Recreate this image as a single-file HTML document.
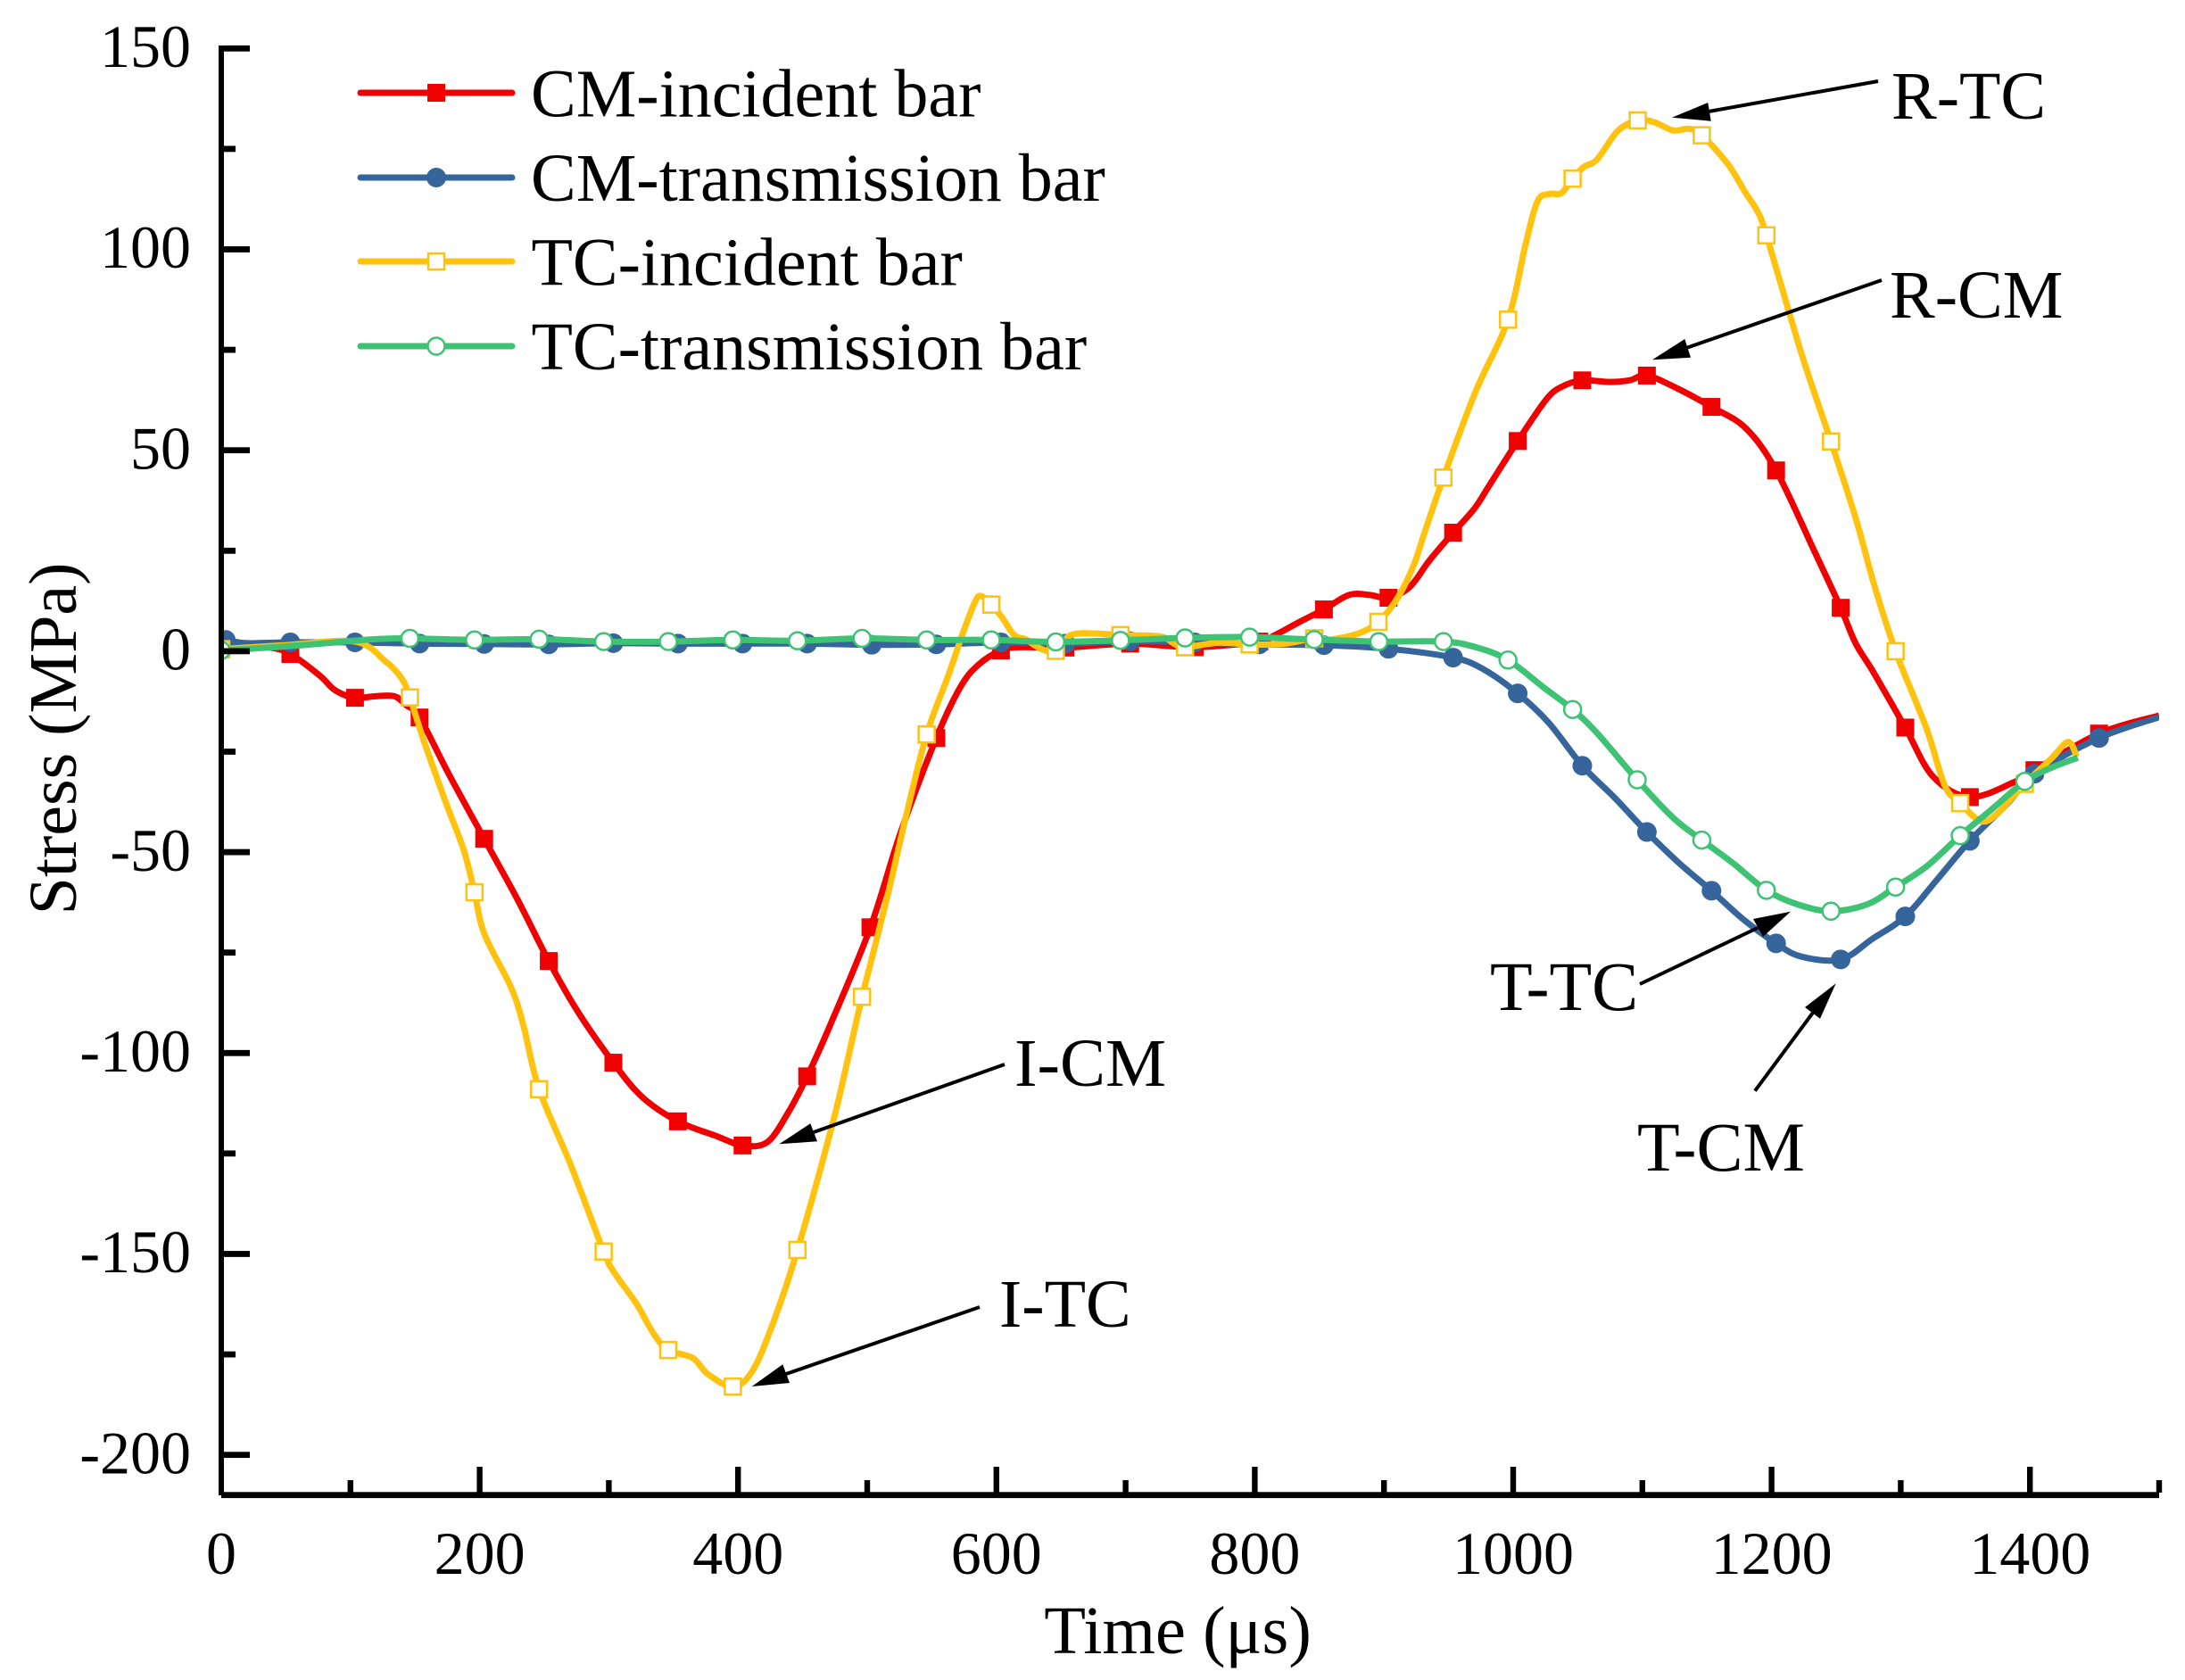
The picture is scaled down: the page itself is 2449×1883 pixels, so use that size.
<!DOCTYPE html>
<html lang="en">
<head>
<meta charset="utf-8">
<title>Stress vs Time</title>
<style>
html,body{margin:0;padding:0;background:#fff;}
svg{display:block;}
text{font-family:"Liberation Serif","Times New Roman",serif;fill:#000;}
</style>
</head>
<body>
<svg id="chart" xmlns="http://www.w3.org/2000/svg" width="2449" height="1883" viewBox="0 0 2449 1883">
  <defs>
    <clipPath id="plot-clip"><rect x="248" y="40" width="2172" height="1640"/></clipPath>
  </defs>
  <rect x="0" y="0" width="2449" height="1883" fill="#fff"/>
  <g id="series-layer" clip-path="url(#plot-clip)"></g>
  <g id="axes-layer"></g>

  <text x="1320" y="1853" font-size="76.5" text-anchor="middle">Time (μs)</text>
  <text x="85" y="828" font-size="76" text-anchor="middle" transform="rotate(-90 85 828)">Stress (MPa)</text>

  <g>
    <g>
      <line x1="404" y1="104" x2="574" y2="104" stroke="#f00000" stroke-width="7" stroke-linecap="round"/>
      <rect x="479" y="94" width="20" height="20" fill="#f00000"/>
      <text x="595" y="130.5" font-size="76">CM-incident bar</text>
    </g>
    <g>
      <line x1="404" y1="199" x2="574" y2="199" stroke="#35659b" stroke-width="7" stroke-linecap="round"/>
      <circle cx="489" cy="199" r="11" fill="#35659b"/>
      <text x="595" y="225" font-size="76">CM-transmission bar</text>
    </g>
    <g>
      <line x1="404" y1="293" x2="574" y2="293" stroke="#ffc20e" stroke-width="7" stroke-linecap="round"/>
      <rect x="480" y="284" width="18" height="18" fill="#fff" stroke="#ffc20e" stroke-width="2.5"/>
      <text x="595.5" y="319.5" font-size="76">TC-incident bar</text>
    </g>
    <g>
      <line x1="404" y1="388" x2="574" y2="388" stroke="#3dc373" stroke-width="7" stroke-linecap="round"/>
      <circle cx="489" cy="388" r="9.5" fill="#fff" stroke="#3dc373" stroke-width="2.5"/>
      <text x="595.5" y="414" font-size="76">TC-transmission bar</text>
    </g>
  </g>

  <g font-size="76">
    <g>
      <line x1="2105" y1="91" x2="1915" y2="125" stroke="#000" stroke-width="4"/>
      <polygon points="1874,131.7 1914.3,115 1917.7,135.7" fill="#000"/>
      <text x="2120" y="133" font-size="76">R-TC</text>
    </g>
    <g>
      <line x1="2109" y1="314" x2="1890" y2="390" stroke="#000" stroke-width="4"/>
      <polygon points="1852,403.3 1888.3,380 1895,400.7" fill="#000"/>
      <text x="2118" y="356" font-size="76">R-CM</text>
    </g>
    <g>
      <line x1="1838" y1="1103" x2="1970" y2="1040" stroke="#000" stroke-width="4"/>
      <polygon points="2007,1021.7 1965,1030 1976,1050" fill="#000"/>
      <text x="1670" y="1132" font-size="78">T-TC</text>
    </g>
    <g>
      <line x1="1967" y1="1222.7" x2="2032" y2="1135" stroke="#000" stroke-width="4"/>
      <polygon points="2057.7,1102.3 2023,1129 2040,1141.7" fill="#000"/>
      <text x="1835" y="1312" font-size="78">T-CM</text>
    </g>
    <g>
      <line x1="1126" y1="1193" x2="912" y2="1269" stroke="#000" stroke-width="4"/>
      <polygon points="873.3,1282.3 908.3,1259.3 916,1279.3" fill="#000"/>
      <text x="1137" y="1217" font-size="76.5">I-CM</text>
    </g>
    <g>
      <line x1="1098" y1="1465" x2="881" y2="1540" stroke="#000" stroke-width="4"/>
      <polygon points="842.7,1554 877.3,1529.3 885,1550" fill="#000"/>
      <text x="1120" y="1487" font-size="76">I-TC</text>
    </g>
  </g>
</svg>

<script>
// ---- tick labels ----
const xMajorTicks = [0, 200, 400, 600, 800, 1000, 1200, 1400];
const xMinorTicks = [100, 300, 500, 700, 900, 1100, 1300, 1500];
const yMajorTicks = [150, 100, 50, 0, -50, -100, -150, -200];
const yMinorTicks = [125, 75, 25, -25, -75, -125, -175];

// ---- CM incident bar ----
const cmIncidentTime = [0, 3.5, 25, 40, 53.5, 76, 88, 103.5, 119, 134, 143, 153.5, 176, 203.5, 229, 253.5, 276, 303.5, 326, 353.5, 383.5, 403.5, 422.5, 438.5, 453.5, 471, 502.5, 526, 553.5, 572, 586, 603.5, 618, 653.5, 703.5, 753.5, 803.5, 815, 833, 853.5, 873, 889, 903.5, 920, 935, 953.5, 970, 982, 1003.5, 1025.5, 1037.5, 1053.5, 1074, 1090, 1103.5, 1127, 1153.5, 1180, 1203.5, 1233, 1253.5, 1265, 1279, 1303.5, 1325, 1353.5, 1387, 1403.5, 1453.5, 1500];
const cmIncidentStress = [1.5, 1.6, 1.2, 0.8, -0.7, -6, -9.7, -11.6, -11.2, -11.2, -13.4, -16.5, -30.5, -46.7, -61.6, -77.1, -89.7, -102.4, -111, -117, -120.7, -123, -122.2, -115, -105.8, -93.3, -68.7, -45, -21.6, -9, -3.4, 0.2, 1, 0.9, 1.9, 1, 2.4, 3.9, 7, 10.4, 14, 14, 13.3, 16, 22.5, 29.5, 35.5, 41.5, 52.3, 62.6, 65.8, 67.4, 67, 67.4, 68.6, 65.4, 60.8, 55.5, 45, 25, 10.8, 2, -5.3, -19, -31.2, -36.3, -32.7, -29.6, -20.5, -16];
const cmIncidentMarkerTime = [3.5, 53.5, 103.5, 153.5, 203.5, 253.5, 303.5, 353.5, 403.5, 453.5, 502.5, 553.5, 603.5, 653.5, 703.5, 753.5, 803.5, 853.5, 903.5, 953.5, 1003.5, 1053.5, 1103.5, 1153.5, 1203.5, 1253.5, 1303.5, 1353.5, 1403.5, 1453.5];

// ---- CM transmission bar ----
const cmTransTime = [0, 3.5, 20, 53.5, 103.5, 153.5, 203.5, 253.5, 303.5, 353.5, 403.5, 453.5, 503.5, 553.5, 603.5, 653.5, 703.5, 753.5, 803.5, 853.5, 903.5, 953.5, 977, 1003.5, 1027.5, 1053.5, 1078, 1103.5, 1128, 1153.5, 1178, 1203.5, 1223, 1253.5, 1278, 1303.5, 1328.5, 1353.5, 1383, 1403.5, 1453.5, 1500];
const cmTransStress = [3.2, 2.8, 2, 2.2, 2.2, 1.9, 1.8, 1.7, 2, 1.9, 1.9, 1.9, 1.6, 1.7, 2.2, 1.9, 2.5, 2.2, 1.7, 1.5, 0.6, -1.6, -4.5, -10.5, -17.8, -28.5, -36.3, -45, -52.6, -59.6, -66.7, -72.7, -76, -76.7, -71.6, -66, -56.7, -47.2, -37.8, -30.5, -21.6, -16.4];
const cmTransMarkerTime = [3.5, 53.5, 103.5, 153.5, 203.5, 253.5, 303.5, 353.5, 403.5, 453.5, 503.5, 553.5, 603.5, 653.5, 703.5, 753.5, 803.5, 853.5, 903.5, 953.5, 1003.5, 1053.5, 1103.5, 1153.5, 1203.5, 1253.5, 1303.5, 1353.5, 1403.5, 1453.5];

// ---- TC incident bar ----
const tcIncidentTime = [0, 50, 103.5, 127, 139.5, 146, 156.8, 174, 187.8, 196, 203.7, 224.5, 234, 246, 270.7, 296, 305, 321, 335, 346, 365, 377, 396, 411, 427, 446, 473, 485, 496, 514.7, 530.8, 546, 562.8, 574.6, 583.8, 588.4, 596, 604.4, 613.8, 623, 634.4, 646, 657.5, 678, 696, 726.5, 738, 746, 772, 796, 821.5, 846, 858.6, 880, 895.7, 910.6, 923, 931.4, 946, 970.5, 996, 1009.7, 1018.9, 1028, 1037.3, 1046, 1054.6, 1065, 1081, 1096.4, 1108.7, 1123.8, 1136, 1146, 1166, 1180, 1189, 1196, 1224, 1246, 1265.6, 1279, 1296, 1320, 1334, 1346, 1362, 1374.7, 1396, 1416.6, 1429.6, 1436.3];
const tcIncidentStress = [0.5, 1.5, 2.4, -2.5, -6.7, -11.5, -22.3, -37.8, -49.6, -60, -70.4, -83.8, -93.3, -109, -128, -149.4, -155, -162.2, -170, -173.9, -175.9, -180, -183, -179.2, -167.3, -149, -117.8, -101.5, -86, -62.2, -40, -20.7, -6, 5, 12.5, 13.7, 11.6, 8.4, 4, 2.9, 0.6, 0.1, 4, 4.4, 4, 3.7, 1.8, 1, 2.1, 1.7, 1.8, 3.2, 2.9, 4.4, 7.3, 13.3, 21.4, 29.5, 43.2, 64.3, 82.5, 101.4, 112, 113.8, 114, 117.6, 120.5, 122.4, 129.5, 132.1, 131.7, 129.6, 130, 128.4, 121.3, 114, 109.5, 103.5, 73.2, 52.2, 32.6, 17, 0, -19.3, -33.4, -37.8, -42.3, -40.4, -33, -26.7, -22.6, -26.3];
const tcIncidentMarkerTime = [0, 146, 196, 246, 296, 346, 396, 446, 496, 546, 596, 646, 696, 746, 796, 846, 895.7, 946, 996, 1046, 1096.4, 1146, 1196, 1246, 1296, 1346, 1396];

// ---- TC transmission bar ----
const tcTransTime = [0, 50, 103, 120, 146, 196, 246, 296, 346, 396, 446, 496, 546, 596, 646, 696, 746, 796, 846, 896, 946, 971, 996, 1023.5, 1046, 1065, 1096, 1124, 1146, 1170, 1196, 1220, 1246, 1274, 1296, 1320.6, 1346, 1370.6, 1396, 1416.6, 1437];
const tcTransStress = [0.2, 1.2, 2.6, 3, 3.2, 2.8, 3, 2.4, 2.4, 2.8, 2.6, 3.2, 2.8, 2.8, 2.3, 2.7, 3.3, 3.5, 2.9, 2.4, 2.4, 1, -2.2, -9, -14.5, -20.4, -32, -41.5, -47, -52.7, -59.5, -63, -64.7, -63, -58.7, -53.4, -45.9, -39.3, -32.4, -29, -26.5];
const tcTransMarkerTime = [0, 146, 196, 246, 296, 346, 396, 446, 496, 546, 596, 646, 696, 746, 796, 846, 896, 946, 996, 1046, 1096, 1146, 1196, 1246, 1296, 1346, 1396];

// ---- axis functions ----
const xAxisMin = 0, xAxisMax = 1500, xAxisLeft = 248, xAxisRight = 2420;
const yAxisMin = -210, yAxisMax = 150, yAxisBottom = 1675.7, yAxisTop = 54.3;
function xScale(t) { return xAxisLeft + (t - xAxisMin) / (xAxisMax - xAxisMin) * (xAxisRight - xAxisLeft); }
function yScale(v) { return yAxisBottom - (v - yAxisMin) / (yAxisMax - yAxisMin) * (yAxisBottom - yAxisTop); }

const NS = 'http://www.w3.org/2000/svg';
const seriesLayer = document.getElementById('series-layer');
const axesLayer = document.getElementById('axes-layer');

function make(tag, parent, props) {
  const node = document.createElementNS(NS, tag);
  for (const k in props) node.setAttribute(k, props[k]);
  parent.appendChild(node);
  return node;
}

function smoothPath(times, values) {
  const p = times.map(function (t, i) { return [xScale(t), yScale(values[i])]; });
  let d = 'M' + p[0][0].toFixed(2) + ' ' + p[0][1].toFixed(2);
  for (let i = 0; i < p.length - 1; i++) {
    const a = p[Math.max(i - 1, 0)], b = p[i], c = p[i + 1], e = p[Math.min(i + 2, p.length - 1)];
    const c1x = b[0] + (c[0] - a[0]) / 6, c1y = b[1] + (c[1] - a[1]) / 6;
    const c2x = c[0] - (e[0] - b[0]) / 6, c2y = c[1] - (e[1] - b[1]) / 6;
    d += 'C' + c1x.toFixed(2) + ' ' + c1y.toFixed(2) + ' ' + c2x.toFixed(2) + ' ' + c2y.toFixed(2) + ' ' + c[0].toFixed(2) + ' ' + c[1].toFixed(2);
  }
  return d;
}

function valueAt(times, values, t) {
  for (let i = 0; i < times.length - 1; i++) {
    if (t >= times[i] && t <= times[i + 1]) {
      const f = (t - times[i]) / (times[i + 1] - times[i]);
      return values[i] + f * (values[i + 1] - values[i]);
    }
  }
  return values[values.length - 1];
}

// ---- CM incident ----
const cmIncidentGroup = make('g', seriesLayer, {});


const cmIncidentLine = make('path', cmIncidentGroup, { d: smoothPath(cmIncidentTime, cmIncidentStress), fill: 'none', stroke: '#f00000', 'stroke-width': 7, 'stroke-linejoin': 'round' });


cmIncidentMarkerTime.forEach(function (t) {
  const v = valueAt(cmIncidentTime, cmIncidentStress, t);
  const m = make('rect', cmIncidentGroup, { x: xScale(t) - 10, y: yScale(v) - 10, width: 20, height: 20, fill: '#f00000' });
  
  
});

// ---- CM transmission ----
const cmTransGroup = make('g', seriesLayer, {});


const cmTransLine = make('path', cmTransGroup, { d: smoothPath(cmTransTime, cmTransStress), fill: 'none', stroke: '#35659b', 'stroke-width': 7, 'stroke-linejoin': 'round' });


cmTransMarkerTime.forEach(function (t) {
  const v = valueAt(cmTransTime, cmTransStress, t);
  const m = make('circle', cmTransGroup, { cx: xScale(t), cy: yScale(v), r: 11, fill: '#35659b' });
  
  
});

// ---- TC incident ----
const tcIncidentGroup = make('g', seriesLayer, {});


const tcIncidentLine = make('path', tcIncidentGroup, { d: smoothPath(tcIncidentTime, tcIncidentStress), fill: 'none', stroke: '#ffc20e', 'stroke-width': 7, 'stroke-linejoin': 'round' });


tcIncidentMarkerTime.forEach(function (t) {
  const v = valueAt(tcIncidentTime, tcIncidentStress, t);
  const m = make('rect', tcIncidentGroup, { x: xScale(t) - 9, y: yScale(v) - 9, width: 18, height: 18, fill: '#fff', stroke: '#ffc20e', 'stroke-width': 2.5 });
  
  
});

// ---- TC transmission ----
const tcTransGroup = make('g', seriesLayer, {});


const tcTransLine = make('path', tcTransGroup, { d: smoothPath(tcTransTime, tcTransStress), fill: 'none', stroke: '#3dc373', 'stroke-width': 7, 'stroke-linejoin': 'round' });


tcTransMarkerTime.forEach(function (t) {
  const v = valueAt(tcTransTime, tcTransStress, t);
  const m = make('circle', tcTransGroup, { cx: xScale(t), cy: yScale(v), r: 9.5, fill: '#fff', stroke: '#3dc373', 'stroke-width': 2.5 });
  
  
});

// ---- axes ----
const yAxisLine = make('rect', axesLayer, { x: 245, y: 51, width: 6, height: 1625, fill: '#000' });


const xAxisLine = make('rect', axesLayer, { x: 248, y: 1672.3, width: 2172, height: 6.8, fill: '#000' });



yMajorTicks.forEach(function (v) {
  const y = yScale(v);
  const tick = make('rect', axesLayer, { x: 251, y: y - 3.4, width: 29, height: 6.8, fill: '#000' });
  
  
  const label = make('text', axesLayer, { x: 214, y: y + 20.7, 'font-size': 68, 'text-anchor': 'end' });
  label.textContent = String(v);
  
  
});
yMinorTicks.forEach(function (v) {
  const tick = make('rect', axesLayer, { x: 251, y: yScale(v) - 3.4, width: 13, height: 6.8, fill: '#000' });
  
  
});
xMajorTicks.forEach(function (t) {
  const x = xScale(t);
  if (t !== 0) {
    const tick = make('rect', axesLayer, { x: x - 3.2, y: 1644, width: 6.4, height: 29, fill: '#000' });
    
    
  }
  const label = make('text', axesLayer, { x: x, y: 1764, 'font-size': 68, 'text-anchor': 'middle' });
  label.textContent = String(t);
  
  
});
xMinorTicks.forEach(function (t) {
  const tick = make('rect', axesLayer, { x: xScale(t) - 3.2, y: 1659, width: 6.4, height: 14, fill: '#000' });
  
  
});
</script>
</body>
</html>
